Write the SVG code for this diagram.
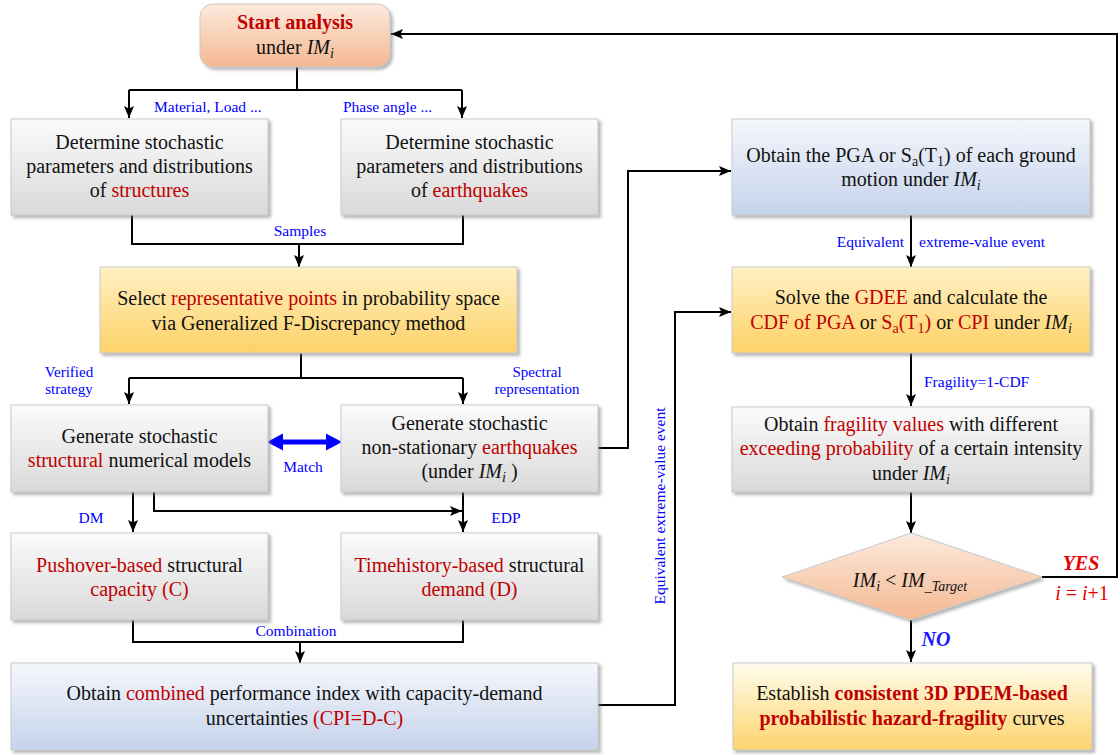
<svg xmlns="http://www.w3.org/2000/svg" width="1120" height="755" viewBox="0 0 1120 755">
<style>
text{font-family:"Liberation Serif","Times New Roman",serif;}
.t{font-size:20px;fill:#111;text-anchor:middle;}
.r{fill:#c00000;}
.lb{font-size:15.5px;fill:#0000ff;}
.sm{font-size:15px;}
.c{text-anchor:middle;}
.box{stroke:#c9c9c9;stroke-width:1;filter:url(#sh);}
.ln{fill:none;stroke:#000;stroke-width:2;}
.ar{fill:none;stroke:#000;stroke-width:2;marker-end:url(#ah);}
.it{font-style:italic;}
</style>
<defs>
<linearGradient id="gGray" x1="0" y1="0" x2="0" y2="1"><stop offset="0" stop-color="#fbfbfb"/><stop offset="1" stop-color="#d9d9d9"/></linearGradient>
<linearGradient id="gPeach" x1="0" y1="0" x2="0" y2="1"><stop offset="0" stop-color="#fdeade"/><stop offset="1" stop-color="#f4b891"/></linearGradient>
<linearGradient id="gYel" x1="0" y1="0" x2="0" y2="1"><stop offset="0" stop-color="#fff0c4"/><stop offset="1" stop-color="#fdd266"/></linearGradient>
<linearGradient id="gYel2" x1="0" y1="0" x2="0" y2="1"><stop offset="0" stop-color="#fffcee"/><stop offset="1" stop-color="#fdd46c"/></linearGradient>
<linearGradient id="gBlue" x1="0" y1="0" x2="0" y2="1"><stop offset="0" stop-color="#f5f7fc"/><stop offset="1" stop-color="#c5d3ec"/></linearGradient>
<filter id="sh" x="-5%" y="-5%" width="112%" height="120%"><feDropShadow dx="2.5" dy="2.5" stdDeviation="1.5" flood-color="#777" flood-opacity="0.55"/></filter>
<marker id="ah" viewBox="0 0 12 10" refX="12" refY="5" markerWidth="12" markerHeight="10" orient="auto" markerUnits="userSpaceOnUse"><path d="M0,0 L12,5 L0,10 L2.5,5 z" fill="#000"/></marker>
</defs>

<g id="connectors">
<path class="ln" d="M297,67 V90 M129,90 H462"/>
<path class="ar" d="M129,90 V118"/>
<path class="ar" d="M462,90 V118"/>
<path class="ln" d="M132,215 V244 H463 V215"/>
<path class="ar" d="M299,244 V267"/>
<path class="ln" d="M301,353 V378 M129,378 H463"/>
<path class="ar" d="M129,378 V404"/>
<path class="ar" d="M463,378 V404"/>
<path class="ar" d="M133,492 V532"/>
<path class="ar" d="M154,492 V511 H462"/>
<path class="ar" d="M463,492 V532"/>
<path class="ln" d="M133,620 V642 H463 V620"/>
<path class="ar" d="M300,642 V663"/>
<path class="ar" d="M598,705 H675 V312 H731"/>
<path class="ar" d="M598,448 H628 V171 H731"/>
<path class="ar" d="M911,215 V267"/>
<path class="ar" d="M911,353 V406"/>
<path class="ar" d="M911,492 V533"/>
<path class="ar" d="M1042,577 H1117 V34 H391"/>
<path class="ar" d="M911,620 V662"/>
<path d="M267,442 L283,433.5 L283,439.5 L326,439.5 L326,433.5 L342,442 L326,450.5 L326,444.5 L283,444.5 L283,450.5 Z" fill="#0000ff"/>
<text class="lb" x="154" y="112">Material, Load ...</text>
<text class="lb" x="343" y="112">Phase angle ...</text>
<text class="lb c" x="300" y="236">Samples</text>
<text class="lb sm c" x="69" y="377">Verified</text>
<text class="lb sm c" x="69" y="394">strategy</text>
<text class="lb sm c" x="537" y="377">Spectral</text>
<text class="lb sm c" x="537" y="394">representation</text>
<text class="lb c" x="303" y="472">Match</text>
<text class="lb c" x="91" y="523">DM</text>
<text class="lb c" x="506" y="523">EDP</text>
<text class="lb c" x="296" y="636">Combination</text>
<text class="lb c" transform="translate(665,506) rotate(-90)">Equivalent extreme-value event</text>
<text class="lb" x="904" y="247" text-anchor="end">Equivalent</text>
<text class="lb" x="919" y="247">extreme-value event</text>
<text class="lb" x="924" y="387">Fragility=1-CDF</text>
<text x="1081" y="570" text-anchor="middle" font-size="20" font-weight="bold" font-style="italic" fill="#e60000">YES</text>
<text x="1082" y="600" text-anchor="middle" font-size="20" fill="#e60000"><tspan font-style="italic">i</tspan> = <tspan font-style="italic">i</tspan>+1</text>
<text x="936" y="646" text-anchor="middle" font-size="20" font-weight="bold" font-style="italic" fill="#1a1aff">NO</text>
</g>

<g id="start">
<rect class="box" x="200" y="4" width="190" height="63" rx="13" fill="url(#gPeach)"/>
<text class="t" x="295" y="29" font-weight="bold" style="fill:#c00000">Start analysis</text>
<text class="t" x="295" y="54">under <tspan class="it">IM</tspan><tspan class="it" font-size="14" dy="4">i</tspan></text>
</g>

<g id="box-structures">
<rect class="box" x="11" y="119" width="257" height="96" fill="url(#gGray)"/>
<text class="t" x="139.5" y="149">Determine stochastic</text>
<text class="t" x="139.5" y="173">parameters and distributions</text>
<text class="t" x="139.5" y="197">of <tspan class="r">structures</tspan></text>
</g>

<g id="box-earthquakes">
<rect class="box" x="341" y="119" width="257" height="96" fill="url(#gGray)"/>
<text class="t" x="469.5" y="149">Determine stochastic</text>
<text class="t" x="469.5" y="173">parameters and distributions</text>
<text class="t" x="469.5" y="197">of <tspan class="r">earthquakes</tspan></text>
</g>

<g id="box-select">
<rect class="box" x="100" y="267" width="417" height="86" fill="url(#gYel)"/>
<text class="t" x="308.5" y="305">Select <tspan class="r">representative points</tspan> in probability space</text>
<text class="t" x="308.5" y="330">via Generalized F-Discrepancy method</text>
</g>

<g id="box-models">
<rect class="box" x="11" y="405" width="257" height="87" fill="url(#gGray)"/>
<text class="t" x="139.5" y="443">Generate stochastic</text>
<text class="t" x="139.5" y="467"><tspan class="r">structural</tspan> numerical models</text>
</g>

<g id="box-gen-eq">
<rect class="box" x="341" y="405" width="257" height="87" fill="url(#gGray)"/>
<text class="t" x="469.5" y="430">Generate stochastic</text>
<text class="t" x="469.5" y="454">non-stationary <tspan class="r">earthquakes</tspan></text>
<text class="t" x="469.5" y="478">(under <tspan class="it">IM</tspan><tspan class="it" font-size="14" dy="4">i</tspan><tspan dy="-4"> )</tspan></text>
</g>

<g id="box-capacity">
<rect class="box" x="11" y="533" width="257" height="87" fill="url(#gGray)"/>
<text class="t" x="139.5" y="572"><tspan class="r">Pushover-based</tspan> structural</text>
<text class="t" x="139.5" y="596"><tspan class="r">capacity (C)</tspan></text>
</g>

<g id="box-demand">
<rect class="box" x="341" y="533" width="257" height="87" fill="url(#gGray)"/>
<text class="t" x="469.5" y="572"><tspan class="r">Timehistory-based</tspan> structural</text>
<text class="t" x="469.5" y="596"><tspan class="r">demand (D)</tspan></text>
</g>

<g id="box-cpi">
<rect class="box" x="11" y="663" width="587" height="87" fill="url(#gBlue)"/>
<text class="t" x="304.5" y="700">Obtain <tspan class="r">combined</tspan> performance index with capacity-demand</text>
<text class="t" x="304.5" y="725">uncertainties <tspan class="r">(CPI=D-C)</tspan></text>
</g>

<g id="box-pga">
<rect class="box" x="732" y="119" width="358" height="96" fill="url(#gBlue)"/>
<text class="t" x="911" y="162">Obtain the PGA or S<tspan font-size="14" dy="4">a</tspan><tspan dy="-4">(T</tspan><tspan font-size="14" dy="4">1</tspan><tspan dy="-4">) of each ground</tspan></text>
<text class="t" x="911" y="186">motion under <tspan class="it">IM</tspan><tspan class="it" font-size="14" dy="4">i</tspan></text>
</g>

<g id="box-gdee">
<rect class="box" x="732" y="267" width="358" height="86" fill="url(#gYel)"/>
<text class="t" x="911" y="304">Solve the <tspan class="r">GDEE</tspan> and calculate the</text>
<text class="t" x="911" y="329"><tspan class="r">CDF of PGA</tspan> or <tspan class="r">S</tspan><tspan class="r" font-size="14" dy="4">a</tspan><tspan class="r" dy="-4">(T</tspan><tspan class="r" font-size="14" dy="4">1</tspan><tspan class="r" dy="-4">)</tspan> or <tspan class="r">CPI</tspan> under <tspan class="it">IM</tspan><tspan class="it" font-size="14" dy="4">i</tspan></text>
</g>

<g id="box-fragility">
<rect class="box" x="732" y="407" width="358" height="85" fill="url(#gGray)"/>
<text class="t" x="911" y="431">Obtain <tspan class="r">fragility values</tspan> with different</text>
<text class="t" x="911" y="455"><tspan class="r">exceeding probability</tspan> of a certain intensity</text>
<text class="t" x="911" y="480">under <tspan class="it">IM</tspan><tspan class="it" font-size="14" dy="4">i</tspan></text>
</g>

<g id="decision">
<polygon class="box" points="911,533 1042,577 911,620 782,577" fill="url(#gPeach)" stroke="none"/>
<text class="t" x="910" y="587"><tspan class="it">IM</tspan><tspan class="it" font-size="14" dy="4">i</tspan><tspan dy="-4"> &lt; </tspan><tspan class="it">IM</tspan><tspan class="it" font-size="14" dy="4">_Target</tspan></text>
</g>

<g id="box-final">
<rect class="box" x="733" y="663" width="359" height="87" fill="url(#gYel2)"/>
<text class="t" x="912" y="700">Establish <tspan class="r" font-weight="bold">consistent 3D PDEM-based</tspan></text>
<text class="t" x="912" y="725"><tspan class="r" font-weight="bold">probabilistic hazard-fragility</tspan> curves</text>
</g>
</svg>
